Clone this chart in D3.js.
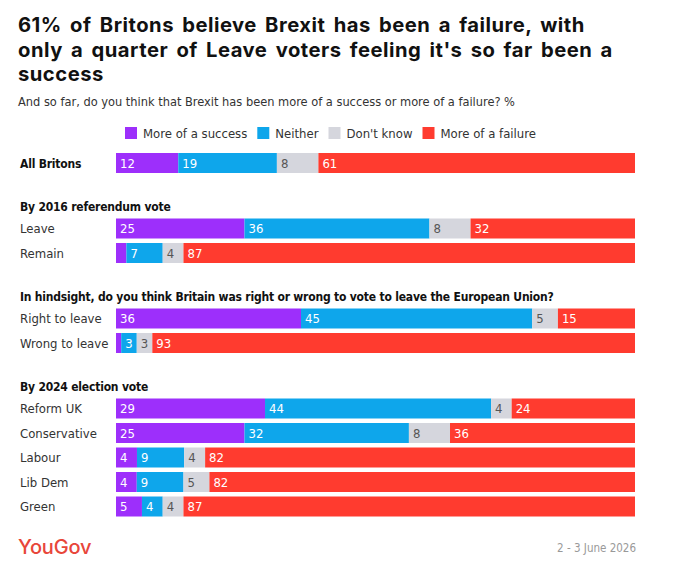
<!DOCTYPE html>
<html>
<head>
<meta charset="utf-8">
<script src="https://cdn.jsdelivr.net/npm/d3@7"></script>
<style>
  body { margin: 0; background: #fff; }
  svg { display: block; }
  .title { font-family: Inter, "Open Sans", sans-serif; font-weight: 700; fill: #111; }
  .narrow { font-family: "Liberation Sans Narrow", "DejaVu Sans Condensed", "Roboto Condensed", sans-serif; }
</style>
</head>
<body>
<svg id="chart" width="680" height="568"></svg>
<script>
// answer categories, left to right
const categories = ["More of a success", "Neither", "Don't know", "More of a failure"];
const colors = ["#9d2ffb", "#0ea6eb", "#d5d6dd", "#ff3b2f"];

// groups of rows
const groupTitles = ["", "By 2016 referendum vote",
  "In hindsight, do you think Britain was right or wrong to vote to leave the European Union?",
  "By 2024 election vote"];
const rowLabels = ["All Britons", "Leave", "Remain", "Right to leave", "Wrong to leave",
  "Reform UK", "Conservative", "Labour", "Lib Dem", "Green"];
const rowGroup = [0, 1, 1, 2, 2, 3, 3, 3, 3, 3];

// % values per category
const success  = [12, 25, 2, 36, 1, 29, 25, 4, 4, 5];
const neither  = [19, 36, 7, 45, 3, 44, 32, 9, 9, 4];
const dontKnow = [8, 8, 4, 5, 3, 4, 8, 4, 5, 4];
const failure  = [61, 32, 87, 15, 93, 24, 36, 82, 82, 87];

const titleLines = ["61% of Britons believe Brexit has been a failure, with",
  "only a quarter of Leave voters feeling it's so far been a",
  "success"];
const subtitle = "And so far, do you think that Brexit has been more of a success or more of a failure? %";
const dateText = "2 - 3 June 2026";

const svg = d3.select("#chart");

// title
svg.append("g").selectAll("text")
  .data(titleLines)
  .join("text")
    .attr("class", "title")
    .attr("x", 18)
    .attr("y", (d, i) => 32 + i * 24.5)
    .attr("font-size", 20.2)
    .attr("letter-spacing", 0.5)
    .attr("word-spacing", 3)
    .text(d => d);

svg.append("text")
  .attr("class", "narrow")
  .attr("x", 18).attr("y", 106)
  .attr("font-size", 12.7)
  .attr("fill", "#333")
  .text(subtitle);

// legend
const legend = svg.append("g").attr("transform", "translate(125,127)");
let lx = 0;
categories.forEach((c, i) => {
  const g = legend.append("g").attr("transform", `translate(${lx},0)`);
  g.append("rect").attr("width", 12).attr("height", 12).attr("fill", colors[i]);
  const t = g.append("text")
    .attr("class", "narrow")
    .attr("x", 18).attr("y", 10.5)
    .attr("font-size", 13)
    .attr("fill", "#333")
    .text(c);
  lx += 18 + t.node().getComputedTextLength() + 10;
});

// row layout
const rows = rowLabels.map((label, i) => {
  const vals = [success[i], neither[i], dontKnow[i], failure[i]];
  return { label, group: rowGroup[i], vals, total: d3.sum(vals) };
});

let y = 163;
const headers = [];
rows.forEach((r, i) => {
  if (i > 0) {
    if (r.group !== rows[i - 1].group) {
      y += 43.5;
      headers.push({ text: groupTitles[r.group], y });
      y += 22;
    } else {
      y += 24.5;
    }
  }
  r.y = y;
});

const x = d3.scaleLinear().domain([0, 1]).range([116, 635]);
const barH = 20;

svg.append("g").selectAll("text")
  .data(headers)
  .join("text")
    .attr("class", "narrow")
    .attr("x", 20)
    .attr("y", d => d.y + 4.5)
    .attr("font-size", 12)
    .attr("letter-spacing", -0.2)
    .attr("font-weight", 700)
    .attr("fill", "#111")
    .text(d => d.text);

const rowG = svg.append("g").selectAll("g")
  .data(rows)
  .join("g")
    .attr("transform", d => `translate(0,${d.y})`);

rowG.append("text")
  .attr("class", "narrow")
  .attr("x", 20)
  .attr("y", 4.5)
  .attr("font-size", d => d.group === 0 ? 12 : 13)
  .attr("letter-spacing", d => d.group === 0 ? -0.2 : 0)
  .attr("font-weight", d => d.group === 0 ? 700 : 400)
  .attr("fill", d => d.group === 0 ? "#111" : "#333")
  .text(d => d.label);

const segs = rowG.selectAll("g.seg")
  .data(d => {
    let acc = 0;
    return d.vals.map((v, k) => {
      const s = { v, k, x0: acc / d.total, x1: (acc + v) / d.total };
      acc += v;
      return s;
    });
  })
  .join("g")
    .attr("class", "seg");

segs.append("rect")
  .attr("x", d => x(d.x0))
  .attr("y", -barH / 2)
  .attr("width", d => x(d.x1) - x(d.x0))
  .attr("height", barH)
  .attr("fill", d => colors[d.k]);

segs.filter(d => d.v >= 3)
  .append("text")
    .attr("class", "narrow")
    .attr("x", d => x(d.x0) + 4)
    .attr("y", 4.5)
    .attr("font-size", 13)
    .attr("fill", d => d.k === 2 ? "#555" : "#fff")
    .text(d => d.v);

// footer
svg.append("text")
  .attr("x", 18).attr("y", 554)
  .attr("font-family", "Inter, sans-serif")
  .attr("font-size", 20)
  .attr("font-weight", 500)
  .attr("letter-spacing", -0.2)
  .attr("fill", "#e8463a")
  .text("YouGov");

svg.append("text")
  .attr("class", "narrow")
  .attr("x", 636).attr("y", 552)
  .attr("text-anchor", "end")
  .attr("font-size", 11.5)
  .attr("fill", "#999")
  .text(dateText);
</script>
</body>
</html>
